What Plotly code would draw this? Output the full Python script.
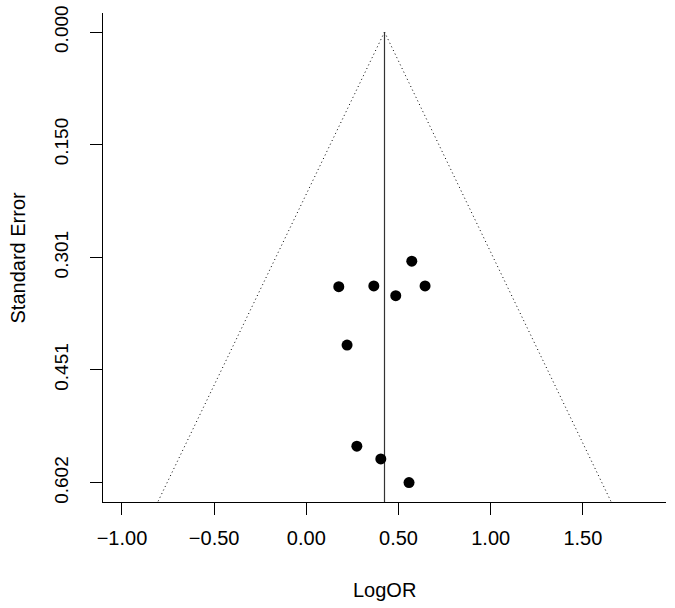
"""Funnel plot of log odds ratios against their standard errors."""

import numpy as np
import plotly.graph_objects as go

# study estimates (log odds ratio) and their standard errors
log_or = [0.572, 0.176, 0.366, 0.644, 0.485, 0.221, 0.274, 0.404, 0.557]
std_err = [0.306, 0.340, 0.339, 0.339, 0.352, 0.418, 0.553, 0.570, 0.6015]

# pooled estimate (vertical reference line)
pooled = 0.424

x_ticks = [-1.0, -0.5, 0.0, 0.5, 1.0, 1.5]
x_tick_text = ["\u22121.00", "\u22120.50", "0.00", "0.50", "1.00", "1.50"]
y_ticks = [0.0, 0.150, 0.301, 0.451, 0.602]
y_tick_text = ["0.000", "0.150", "0.301", "0.451", "0.602"]

x_range = [-1.103, 1.951]
y_range = [0.6275, -0.0254]

FONT = "Liberation Sans, Arial, sans-serif"

# pseudo-confidence funnel, from se = 0 down to the bottom of the plot
se_line = np.array([0.0, y_range[0]])
left_edge = pooled - 1.96 * se_line
right_edge = pooled + 1.96 * se_line

fig = go.Figure()

fig.add_trace(
    go.Scatter(
        x=np.concatenate([left_edge, [None], right_edge]),
        y=np.concatenate([se_line, [None], se_line]),
        mode="lines",
        line=dict(color="black", width=1, dash="1px,3px"),
        hoverinfo="skip",
    )
)

fig.add_trace(
    go.Scatter(
        x=[pooled, pooled],
        y=[0.0, y_range[0]],
        mode="lines",
        line=dict(color="#333333", width=1.2),
        hoverinfo="skip",
    )
)

fig.add_trace(
    go.Scatter(
        x=log_or,
        y=std_err,
        mode="markers",
        marker=dict(color="black", size=11),
        hovertemplate="LogOR %{x:.3f}<br>SE %{y:.3f}<extra></extra>",
    )
)

# axis titles placed as annotations so the margins stay fixed
fig.add_annotation(
    text="LogOR",
    xref="paper", yref="paper",
    x=0.5, y=-0.18,
    xanchor="center", yanchor="middle",
    showarrow=False,
)
fig.add_annotation(
    text="Standard Error",
    xref="paper", yref="paper",
    x=-0.151, y=0.5,
    xanchor="center", yanchor="middle",
    textangle=-90,
    showarrow=False,
)

fig.update_layout(
    width=675,
    height=608,
    showlegend=False,
    paper_bgcolor="white",
    plot_bgcolor="white",
    font=dict(family=FONT, size=20, color="black"),
    margin=dict(l=103, r=9, t=13, b=106),
    xaxis=dict(
        range=x_range,
        tickmode="array",
        tickvals=x_ticks,
        ticktext=x_tick_text,
        ticks="outside",
        ticklen=12,
        tickwidth=1,
        tickcolor="black",
        ticklabelstandoff=6,
        ticklabeloverflow="allow",
        showline=True,
        linecolor="black",
        linewidth=1,
        showgrid=False,
        zeroline=False,
        automargin=False,
    ),
    yaxis=dict(
        range=y_range,
        tickmode="array",
        tickvals=y_ticks,
        ticktext=y_tick_text,
        tickangle=-90,
        tickfont=dict(size=19),
        ticks="outside",
        ticklen=12,
        tickwidth=1,
        tickcolor="black",
        ticklabelstandoff=14,
        ticklabeloverflow="allow",
        showline=True,
        linecolor="black",
        linewidth=1,
        showgrid=False,
        zeroline=False,
        automargin=False,
    ),
)

# drop the default page margin so the figure sits at the window corner
fig.write_html(
    "out.html",
    config={"displayModeBar": False},
    post_script="document.body.style.margin = '0';",
)
